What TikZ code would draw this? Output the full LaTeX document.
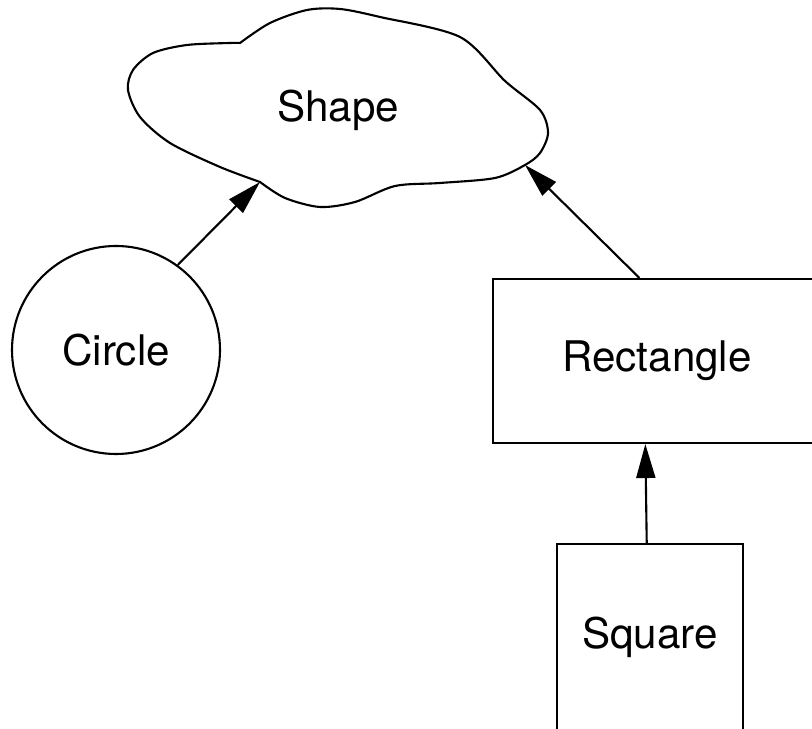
\documentclass[tikz,border=0pt]{standalone}
\usepackage{fontspec}
\setmainfont{TeX Gyre Heros}
\usepackage{tikz}
\usetikzlibrary{arrows.meta}

\begin{document}
\begin{tikzpicture}[semithick,
    every node/.style={font=\fontsize{12}{14}\selectfont},
    isa/.style={-{Triangle[length=3.4mm,width=1.9mm]}}]
    \useasboundingbox (0,0) rectangle (8.12,7.28);
    \clip (0,0) rectangle (8.12,7.28);

    % Shape (cloud)
    \coordinate (notch) at (2.40,6.85);
    \coordinate (shapeleft) at (2.60,5.46);
    \coordinate (shaperight) at (5.25,5.63);
    \draw plot[smooth, tension=0.5] coordinates {
        (notch) (2.70,7.05) (3.07,7.18) (3.40,7.19) (3.80,7.11)
        (4.60,6.91) (5.05,6.47) (5.40,6.18) (5.48,5.95)
        (5.40,5.75) (shaperight) (4.95,5.50) (4.40,5.45) (3.95,5.42)
        (3.55,5.26) (3.20,5.21) (2.85,5.30) (shapeleft)}
      -- plot[smooth, tension=0.5] coordinates {
        (shapeleft) (2.20,5.61) (1.70,5.85) (1.40,6.11) (1.28,6.38)
        (1.33,6.58) (1.53,6.75) (1.87,6.83) (2.30,6.85) (notch)} -- cycle;
    \node (shape) at (3.38,6.18) {Shape};

    % Circle
    \node[draw, circle, minimum size=2.08cm, inner sep=0pt] (circ) at (1.16,3.78) {Circle};

    % Rectangle
    \node[draw, rectangle, minimum width=3.28cm, minimum height=1.64cm, inner sep=0pt] (rect) at (6.57,3.67) {Rectangle};

    % Square
    \node[draw, rectangle, minimum size=1.86cm, inner sep=0pt] (sq) at (6.50,0.91) {Square};

    % Inheritance arrows
    \draw[isa] (circ.54) -- (shapeleft);
    \draw[isa] (rect.102) -- (shaperight);
    \draw[isa] (sq.92) -- (rect.262);
\end{tikzpicture}
\end{document}
